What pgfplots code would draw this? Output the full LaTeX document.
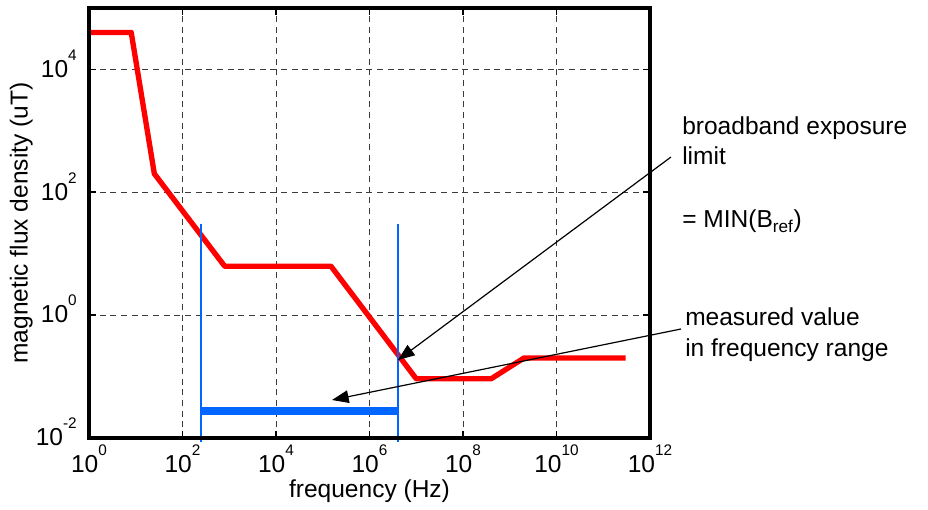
\documentclass[border=0pt]{standalone}
\usepackage{pgfplots}
\pgfplotsset{compat=1.18}
\usepackage{fontspec}
\setmainfont{Liberation Sans}
\usetikzlibrary{arrows.meta}

\definecolor{limred}{RGB}{255,0,0}
\definecolor{measblue}{RGB}{0,102,255}
\definecolor{framecol}{RGB}{0,0,0}
\definecolor{gridcol}{RGB}{60,60,60}

% power-of-ten tick label with a raised, smaller exponent
\newcommand\pw[1]{10\raisebox{0.69em}{\fontsize{11.5pt}{11.5pt}\selectfont #1}}

\begin{document}
\begin{tikzpicture}[font=\fontsize{18.4pt}{22pt}\selectfont]
\useasboundingbox (-66.75pt,-54pt) rectangle (629.25pt,328.5pt);
\begin{axis}[
  at={(0,0)}, anchor=south west,
  scale only axis, width=420.75pt, height=322.5pt,
  xmode=log, ymode=log,
  xmin=1, xmax=1e12, ymin=1e-2, ymax=1e5,
  xtick={1,1e2,1e4,1e6,1e8,1e10,1e12},
  xticklabels={\pw{0},\pw{2},\pw{4},\pw{6},\pw{8},\pw{10},\pw{12}},
  ytick={1e-2,1,1e2,1e4},
  yticklabels={\pw{-2},\pw{0},\pw{2},\pw{4}},
  minor tick length=0pt,
  tick align=inside, major tick length=5pt,
  major tick style={framecol, line width=1.2pt},
  axis line style={framecol, line width=2.2pt},
  grid=major,
  major grid style={gridcol, line width=0.7pt, dash pattern=on 4.5pt off 3.5pt},
  xticklabel style={anchor=base, inner sep=0pt, yshift=-25.5pt},
  yticklabel style={anchor=base east, inner sep=0pt, xshift=-9pt, yshift=-5.8pt},
  xlabel={frequency (Hz)},
  ylabel={magnetic flux density (uT)},
  xlabel style={at={(axis description cs:0.5,-0.1372)}, anchor=base, inner sep=0pt},
  ylabel style={at={(axis description cs:-0.1096,0.5)}, anchor=base, inner sep=0pt},
  clip=false,
]
% broadband exposure limit (reference levels)
\addplot[limred, line width=4pt, line join=round] coordinates {
  (1,4e4) (8,4e4) (25,200) (800,6.25) (1.5e5,6.25)
  (1e7,0.092) (4e8,0.092) (2e9,0.2) (3e11,0.2)
};
% frequency range limits of the measurement
\addplot[measblue, line width=1.3pt] coordinates {(250,30) (250,0.0086)};
\addplot[measblue, line width=1.3pt] coordinates {(4e6,30) (4e6,0.0086)};
% measured value over the range
\addplot[measblue, line width=5.5pt] coordinates {(250,0.0275) (4e6,0.0275)};
\end{axis}
% heavy frame around the axis box
\draw[framecol, line width=2.6pt] (0,0) rectangle (420.75pt,322.5pt);

% annotations
\begin{scope}[x=0.75pt, y=-0.75pt, shift={(-66.75pt,328.5pt)}]
  \draw[framecol, line width=0.9pt, -{Triangle[length=12.5pt,width=9.5pt]}] (671,157) -- (398,360);
  \draw[framecol, line width=0.9pt, -{Triangle[length=12.5pt,width=9.5pt]}] (681,329) -- (332,400);
  \node[anchor=base west, inner sep=0pt] at (682,135) {broadband exposure};
  \node[anchor=base west, inner sep=0pt] at (682,165) {limit};
  \node[anchor=base west, inner sep=0pt] at (682,228) {= MIN(B\textsubscript{ref})};
  \node[anchor=base west, inner sep=0pt] at (685,326) {measured value};
  \node[anchor=base west, inner sep=0pt] at (685,357) {in frequency range};
\end{scope}
\end{tikzpicture}
\end{document}
